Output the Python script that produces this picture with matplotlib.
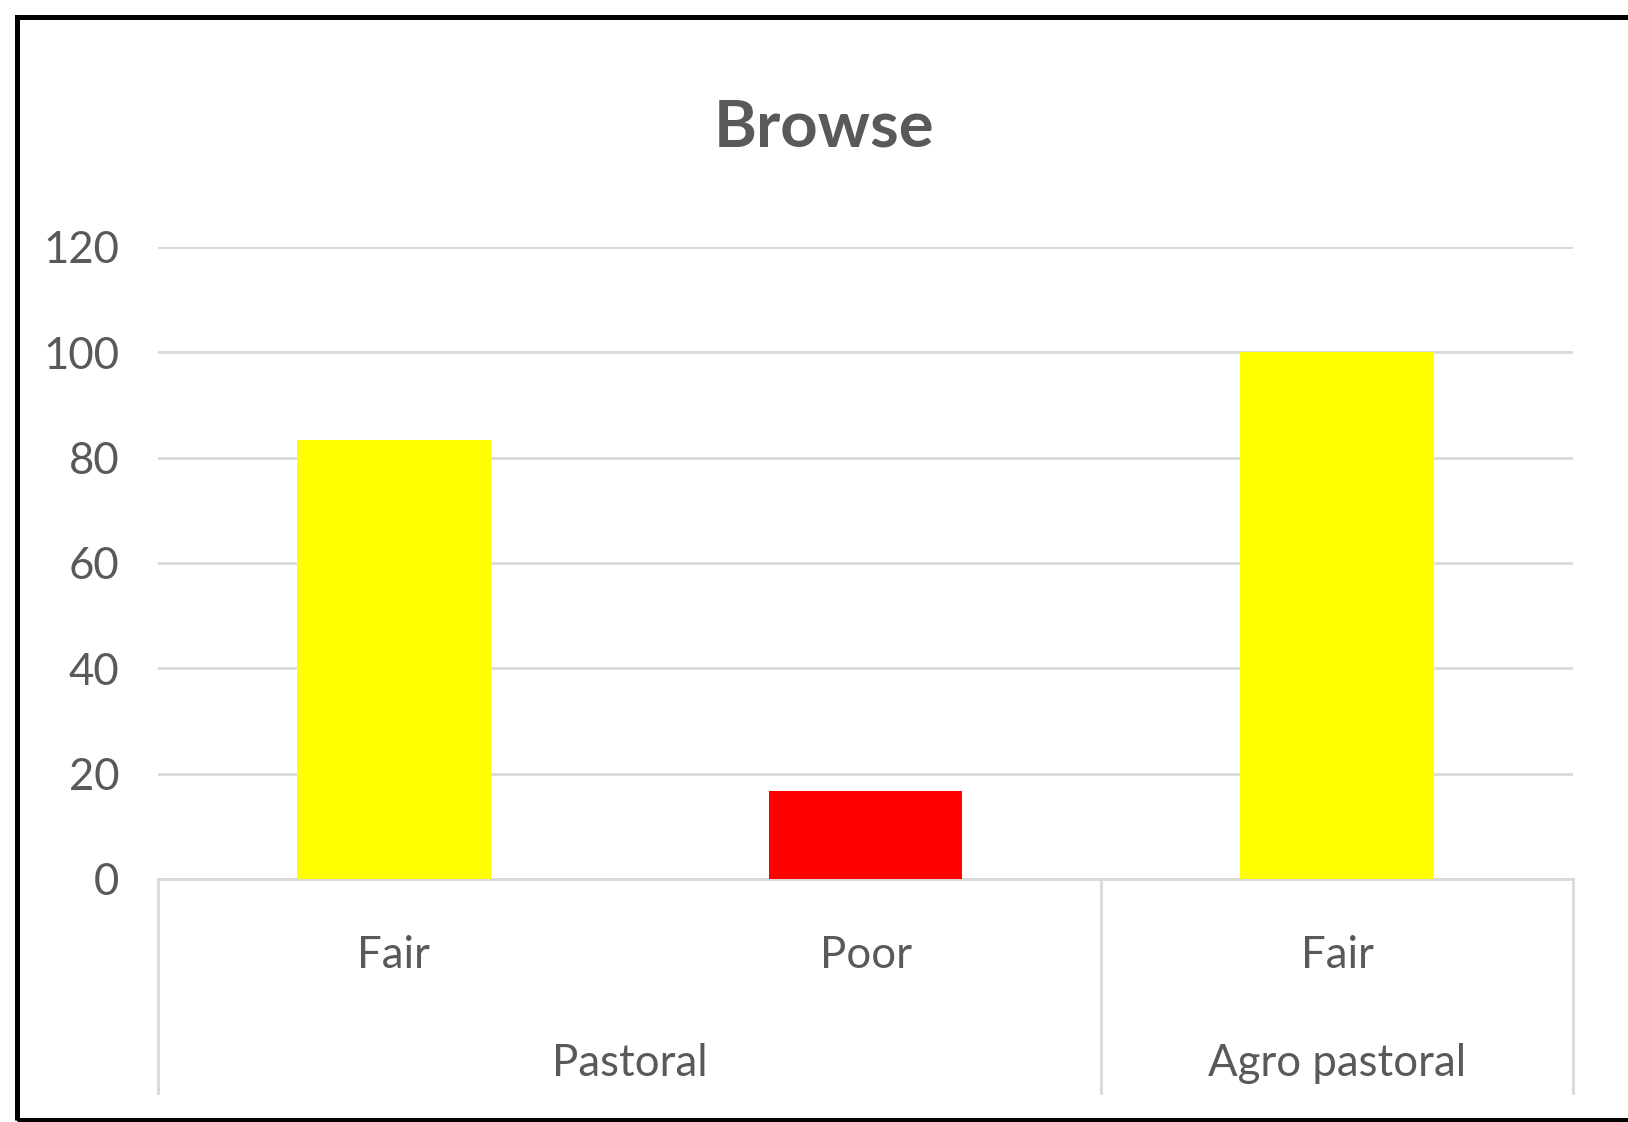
import matplotlib.pyplot as plt
from matplotlib.patches import Rectangle
from matplotlib.transforms import blended_transform_factory

# Browse condition by production system
conditions = ["Fair", "Poor", "Fair"]
systems = ["Pastoral", "Agro pastoral"]
system_spans = [(0, 1), (2, 2)]  # first and last bar index in each system
values = [83.33, 16.67, 100.0]
bar_colors = ["#FFFF00", "#FF0000", "#FFFF00"]
yticks = [0, 20, 40, 60, 80, 100, 120]

TEXT = "#595959"
GRID = "#D9D9D9"
plt.rcParams["font.family"] = ["Lato", "DejaVu Sans"]

fig = plt.figure(figsize=(16.28, 11.22), dpi=100)
ax = fig.add_axes([0.0971, 0.2166, 0.8691, 0.5633])

x = list(range(len(values)))
ax.bar(x, values, width=0.41, color=bar_colors, zorder=3)

ax.set_xlim(-0.5, len(values) - 0.5)
ax.set_ylim(0, 120)
ax.set_yticks(yticks)
ax.set_yticklabels([str(t) for t in yticks])
ax.tick_params(axis="y", length=0, pad=28, labelsize=31.5, labelcolor=TEXT)
ax.set_xticks([])
ax.grid(axis="y", color=GRID, linewidth=2.0, zorder=0)
for side in ("top", "right", "left"):
    ax.spines[side].set_visible(False)
ax.spines["bottom"].set_color(GRID)
ax.spines["bottom"].set_linewidth(2.0)

# two-level category axis: condition row, then system row with separators
tr = blended_transform_factory(ax.transData, ax.transAxes)
for xi, lab in zip(x, conditions):
    ax.text(xi, -0.141, lab, transform=tr, ha="center", va="baseline",
            fontsize=31.5, color=TEXT)
for (a, b), name in zip(system_spans, systems):
    ax.text((a + b) / 2, -0.312, name, transform=tr, ha="center", va="baseline",
            fontsize=31.5, color=TEXT)
seps = [-0.5] + [b + 0.5 for _, b in system_spans]
for s in seps:
    ax.plot([s, s], [0, -0.339], transform=tr, color=GRID, linewidth=2.0,
            clip_on=False, zorder=1)

fig.text(0.506, 0.869, "Browse", ha="center", va="baseline", fontsize=47,
         fontweight="bold", color=TEXT)

# outer chart frame
fig.patches.append(Rectangle((0.0105, 0.0018), 1.2, 0.9830, transform=fig.transFigure,
                             fill=False, edgecolor="black", linewidth=3.6))

fig.savefig("out.png", dpi=100)
